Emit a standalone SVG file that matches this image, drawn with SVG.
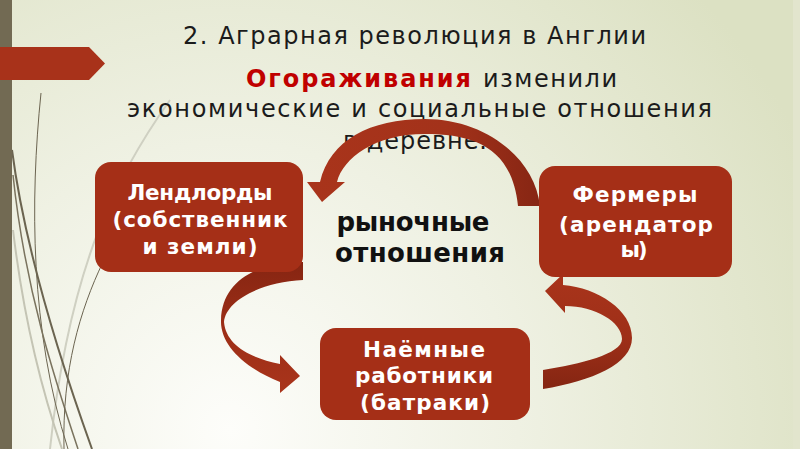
<svg xmlns="http://www.w3.org/2000/svg" width="800" height="449" viewBox="0 0 800 449">
<defs>
<radialGradient id="bg" cx="230" cy="430" r="640" gradientUnits="userSpaceOnUse">
<stop offset="0" stop-color="#fdfdfa"/><stop offset="0.45" stop-color="#eff1e3"/><stop offset="1" stop-color="#dce1c3"/>
</radialGradient>
<linearGradient id="gArc" x1="300" y1="0" x2="545" y2="0" gradientUnits="userSpaceOnUse"><stop offset="0" stop-color="#a9341b"/><stop offset="0.6" stop-color="#a3321a"/><stop offset="1" stop-color="#852513"/></linearGradient>
<linearGradient id="gL" x1="0" y1="262" x2="0" y2="393" gradientUnits="userSpaceOnUse"><stop offset="0" stop-color="#862512"/><stop offset="0.5" stop-color="#9c2e17"/><stop offset="1" stop-color="#a9341b"/></linearGradient>
<linearGradient id="gR" x1="0" y1="274" x2="0" y2="390" gradientUnits="userSpaceOnUse"><stop offset="0" stop-color="#a9341b"/><stop offset="0.55" stop-color="#9e2f18"/><stop offset="1" stop-color="#842512"/></linearGradient>
<style>
.t{font-family:"DejaVu Sans",Verdana,sans-serif;fill:#1b1b1b;font-size:24px}
.bx{fill:#a52f17}
.w{font-family:"DejaVu Sans",Verdana,sans-serif;font-weight:bold;fill:#ffffff;font-size:21.5px;text-anchor:middle}
.c{font-family:"DejaVu Sans",Verdana,sans-serif;font-weight:bold;fill:#111111;font-size:26px;text-anchor:middle}
.dl{fill:none;stroke:#6b6450}
</style>
</defs>
<rect width="800" height="449" fill="url(#bg)"/>
<rect x="793" y="0" width="7" height="449" fill="#e2e5cd"/>
<g id="decor">
<path class="dl" d="M170 100 C 120 170, 70 260, 50 449" style="stroke:#cfd0c2;stroke-width:2"/>
<path class="dl" d="M13 230 C 25 330, 45 400, 62 449" style="stroke:#c4c4b4;stroke-width:2"/>
<path class="dl" d="M41 93 C 30 200, 30 330, 68 449" stroke-width="1"/>
<path class="dl" d="M12 150 C 25 250, 60 360, 92 449" stroke-width="2"/>
<path class="dl" d="M13 175 C 25 290, 55 380, 78 449" stroke-width="1.5" style="stroke:#7a735e"/>
<path class="dl" d="M103 262 C 80 310, 62 370, 64 449" stroke-width="1"/>
<rect x="0" y="0" width="12" height="449" fill="#726a53"/>
<polygon points="0,47 89,47 105,63.5 89,80 0,80" fill="#a8321a"/>
</g>
<g id="heading">
<text class="t" x="183" y="44" textLength="463" lengthAdjust="spacing">2. Аграрная революция в Англии</text>
<text class="t" x="246" y="87" textLength="225" lengthAdjust="spacing" style="font-weight:bold;fill:#c00000">Огораживания</text>
<text class="t" x="483" y="87" textLength="134" lengthAdjust="spacing">изменили</text>
<text class="t" x="127" y="117" textLength="585" lengthAdjust="spacing">экономические и социальные отношения</text>
<text class="t" x="343" y="149" textLength="144" lengthAdjust="spacing">в деревне.</text>
</g>
<g id="connectors">
<path d="M540 206 C 535 158, 485 119, 425 119 C 370 119, 330 140, 320 182 L 307 182 L 322 202 L 345 182 L 337 182 C 343 158, 375 134, 425 134 C 475 134, 512 148, 518 206 Z" fill="url(#gArc)"/>
<path d="M303 262 C 258 262, 222 280, 221 320 C 220 345, 245 368, 280 382 L 280 393 L 300 376 L 280 355 L 280 364 C 250 358, 226 345, 224 322 C 226 300, 262 282, 303 280 Z" fill="url(#gL)"/>
<path d="M545 291 L 563 274 L 563 285 C 598 288, 632 310, 632 338 C 632 364, 592 381, 543 389 L 543 370 C 580 364, 622 354, 622 339 C 622 322, 595 306, 565 306 L 565 313 Z" fill="url(#gR)"/>
</g>
<g id="landlords">
<rect class="bx" x="95" y="162" width="208" height="110" rx="16"/>
<text class="w" x="200" y="200" textLength="145" lengthAdjust="spacing">Лендлорды</text>
<text class="w" x="200" y="227" textLength="175" lengthAdjust="spacing">(собственник</text>
<text class="w" x="200" y="254" textLength="115" lengthAdjust="spacing">и земли)</text>
</g>
<g id="farmers">
<rect class="bx" x="539" y="166" width="193" height="111" rx="16"/>
<text class="w" x="635" y="202" textLength="125" lengthAdjust="spacing">Фермеры</text>
<text class="w" x="636" y="232" textLength="154" lengthAdjust="spacing">(арендатор</text>
<text class="w" x="634" y="257" textLength="27" lengthAdjust="spacing">ы)</text>
</g>
<g id="workers">
<rect class="bx" x="320" y="328" width="210" height="92" rx="16"/>
<text class="w" x="424" y="357" textLength="122" lengthAdjust="spacing">Наёмные</text>
<text class="w" x="424" y="383" textLength="138" lengthAdjust="spacing">работники</text>
<text class="w" x="425" y="410" textLength="130" lengthAdjust="spacing">(батраки)</text>
</g>
<g id="market">
<text class="c" x="413" y="231" textLength="153" lengthAdjust="spacing">рыночные</text>
<text class="c" x="420" y="262" textLength="170" lengthAdjust="spacing">отношения</text>
</g>
</svg>
